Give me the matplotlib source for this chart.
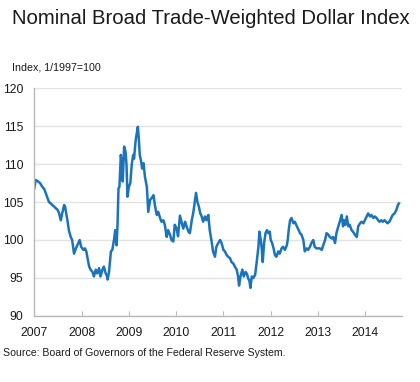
import matplotlib
matplotlib.use("Agg")
import matplotlib.pyplot as plt

plt.rcParams['font.family'] = ['Liberation Sans', 'DejaVu Sans']

title = "Nominal Broad Trade-Weighted Dollar Index"
subtitle = "Index, 1/1997=100"
source = "Source: Board of Governors of the Federal Reserve System."

years = [
    2007.00, 2007.03, 2007.08, 2007.12, 2007.15, 2007.17, 2007.21, 2007.24, 2007.27, 2007.31,
    2007.35, 2007.38, 2007.42, 2007.45, 2007.49, 2007.52, 2007.56, 2007.59, 2007.63, 2007.65,
    2007.68, 2007.70, 2007.73, 2007.77, 2007.80, 2007.84, 2007.88, 2007.91, 2007.96, 2007.99,
    2008.04, 2008.07, 2008.10, 2008.12, 2008.16, 2008.19, 2008.23, 2008.26, 2008.30, 2008.33,
    2008.37, 2008.40, 2008.44, 2008.47, 2008.51, 2008.54, 2008.55, 2008.58, 2008.62, 2008.65,
    2008.69, 2008.71, 2008.74, 2008.76, 2008.78, 2008.80, 2008.83, 2008.85, 2008.87, 2008.90,
    2008.93, 2008.95, 2008.97, 2009.00, 2009.03, 2009.06, 2009.09, 2009.11, 2009.14, 2009.16,
    2009.19, 2009.21, 2009.23, 2009.26, 2009.28, 2009.31, 2009.34, 2009.38, 2009.41, 2009.45,
    2009.48, 2009.52, 2009.55, 2009.59, 2009.62, 2009.66, 2009.69, 2009.73, 2009.76, 2009.80,
    2009.83, 2009.87, 2009.90, 2009.94, 2009.97, 2010.01, 2010.04, 2010.08, 2010.12, 2010.15,
    2010.19, 2010.22, 2010.26, 2010.29, 2010.33, 2010.36, 2010.40, 2010.42, 2010.45, 2010.48,
    2010.51, 2010.54, 2010.57, 2010.61, 2010.64, 2010.68, 2010.71, 2010.75, 2010.78, 2010.82,
    2010.85, 2010.89, 2010.93, 2010.96, 2011.00, 2011.03, 2011.07, 2011.10, 2011.14, 2011.17,
    2011.21, 2011.24, 2011.28, 2011.31, 2011.33, 2011.36, 2011.40, 2011.43, 2011.47, 2011.50,
    2011.52, 2011.55, 2011.57, 2011.60, 2011.63, 2011.67, 2011.70, 2011.74, 2011.76, 2011.79,
    2011.81, 2011.83, 2011.86, 2011.89, 2011.92, 2011.95, 2011.98, 2012.00, 2012.03, 2012.06,
    2012.09, 2012.12, 2012.16, 2012.19, 2012.23, 2012.26, 2012.30, 2012.34, 2012.36, 2012.38,
    2012.41, 2012.44, 2012.48, 2012.51, 2012.54, 2012.58, 2012.62, 2012.65, 2012.69, 2012.72,
    2012.76, 2012.79, 2012.83, 2012.86, 2012.90, 2012.93, 2012.97, 2013.00, 2013.04, 2013.08,
    2013.11, 2013.15, 2013.18, 2013.22, 2013.25, 2013.29, 2013.32, 2013.36, 2013.39, 2013.43,
    2013.46, 2013.50, 2013.53, 2013.55, 2013.58, 2013.61, 2013.64, 2013.67, 2013.71, 2013.74,
    2013.78, 2013.82, 2013.85, 2013.89, 2013.92, 2013.96, 2013.99, 2014.03, 2014.06, 2014.10,
    2014.13, 2014.17, 2014.20, 2014.24, 2014.27, 2014.30, 2014.34, 2014.37, 2014.41, 2014.44,
    2014.47, 2014.51, 2014.55, 2014.58, 2014.62, 2014.66, 2014.69, 2014.71,
]

index_values = [
    106.8, 107.9, 107.7, 107.5, 107.2, 107.0, 106.7, 106.2, 105.7, 105.0,
    104.8, 104.6, 104.4, 104.2, 104.0, 103.6, 102.6, 103.5, 104.6, 104.4,
    103.3, 102.6, 101.3, 100.4, 100.0, 98.2, 98.9, 99.3, 100.0, 99.1,
    98.7, 98.9, 98.5, 97.8, 96.5, 96.1, 95.8, 95.2, 96.1, 95.6,
    96.3, 95.2, 96.1, 96.5, 95.6, 95.2, 94.8, 95.8, 98.5, 98.7,
    100.2, 101.3, 99.3, 102.0, 106.8, 107.0, 111.2, 109.9, 107.7, 112.3,
    111.6, 109.9, 105.7, 107.0, 107.5, 109.9, 111.2, 110.7, 112.9, 113.8,
    114.9, 113.4, 111.2, 110.3, 109.4, 110.1, 108.3, 107.0, 103.7, 105.3,
    105.5, 105.9, 104.6, 103.3, 103.7, 102.9, 102.4, 102.6, 102.0, 100.4,
    101.3, 100.7, 100.0, 99.8, 102.0, 101.5, 100.5, 103.2, 102.2, 101.5,
    102.4, 101.8, 101.1, 100.9, 102.6, 103.5, 105.3, 106.2, 105.0, 104.4,
    103.5, 103.1, 102.4, 103.1, 102.6, 103.3, 101.3, 99.8, 98.5, 97.8,
    99.1, 99.6, 100.0, 99.6, 98.7, 98.5, 98.0, 97.8, 97.6, 97.1,
    96.9, 96.5, 96.1, 95.2, 94.0, 95.2, 96.1, 95.2, 95.8, 95.5,
    95.0, 94.6, 93.7, 95.2, 95.0, 95.4, 96.9, 99.1, 101.1, 100.0,
    98.9, 97.1, 99.6, 100.9, 101.3, 100.9, 101.1, 100.0, 99.6, 98.9,
    98.0, 97.8, 98.5, 98.2, 98.9, 99.1, 98.7, 99.3, 100.0, 101.3,
    102.6, 102.9, 102.2, 102.4, 102.0, 101.5, 100.9, 100.7, 100.0, 98.5,
    98.9, 98.7, 99.1, 99.6, 100.0, 99.1, 98.9, 98.9, 98.9, 98.7,
    99.3, 100.0, 100.9, 100.7, 100.4, 100.2, 100.4, 99.6, 100.9, 101.8,
    102.4, 103.3, 101.8, 102.6, 102.0, 103.1, 101.8, 102.0, 101.3, 101.1,
    100.7, 100.4, 101.8, 102.2, 102.4, 102.2, 102.6, 103.1, 103.5, 103.1,
    103.3, 102.9, 103.1, 102.9, 102.6, 102.4, 102.6, 102.4, 102.6, 102.4,
    102.2, 102.4, 102.9, 103.3, 103.5, 104.0, 104.6, 104.8,
]

year_ticks = [2007, 2008, 2009, 2010, 2011, 2012, 2013, 2014]
y_ticks = [90, 95, 100, 105, 110, 115, 120]

line_color = "#1b74bb"
spine_color = "#b8b8b8"
grid_color = "#e3e3e3"
text_color = "#1a1a1a"

fig = plt.figure(figsize=(4.2, 3.82), dpi=100)
ax = fig.add_axes([0.0817, 0.1728, 0.8747, 0.5968])

ax.plot(years, index_values, color=line_color, linewidth=1.8, solid_joinstyle='round')

ax.set_xlim(2007, 2014.77)
ax.set_ylim(90, 120)
ax.set_yticks(y_ticks)
ax.set_xticks(year_ticks)
ax.set_xticklabels([str(y) for y in year_ticks])
ax.yaxis.grid(True, color=grid_color, linewidth=1.0)
ax.set_axisbelow(True)

for s in ['top', 'right']:
    ax.spines[s].set_visible(False)
for s in ['left', 'bottom']:
    ax.spines[s].set_color(spine_color)
    ax.spines[s].set_linewidth(1.0)

ax.tick_params(axis='x', direction='in', length=3.5, width=0.8, color=spine_color,
               labelsize=8.7, labelcolor=text_color, pad=8)
ax.tick_params(axis='y', length=0, labelsize=8.7, labelcolor=text_color, pad=8)

fig.text(12 / 420, 1 - 19 / 382, title, fontsize=14.6, color=text_color,
         ha='left', va='center')
fig.text(12 / 420, 1 - 67 / 382, subtitle, fontsize=7.7, color=text_color,
         ha='left', va='center')
fig.text(3 / 420, 1 - 353 / 382, source, fontsize=7.6, color=text_color,
         ha='left', va='center')

fig.savefig("out.png", dpi=100)
